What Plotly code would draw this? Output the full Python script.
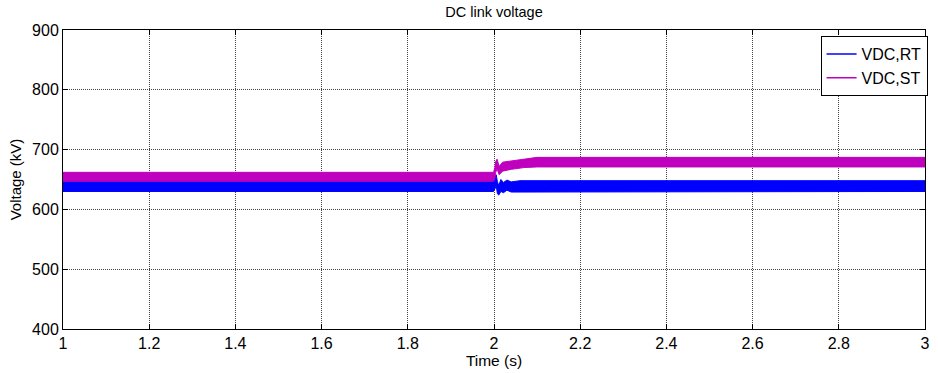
import plotly.graph_objects as go

# ---- data (ripple shown as its min/max envelope) ----
t_rt = [1.0, 1.999, 2.002, 2.005, 2.008, 2.011, 2.016, 2.022, 2.03, 2.04, 2.06, 3.0]
rt_upper = [648, 648, 652, 658, 646, 640, 650, 645, 649, 646, 648, 648]
rt_lower = [630, 630, 634, 640, 626, 624, 630, 628, 632, 629, 630, 630]

t_st = [1.0, 1.999, 2.002, 2.004, 2.007, 2.012, 2.02, 2.04, 2.07, 2.1, 3.0]
st_upper = [662, 662, 670, 680, 684, 672, 679, 681, 685, 687, 687]
st_lower = [647, 647, 652, 662, 668, 658, 664, 667, 670, 671, 671]

x_ticks = [1, 1.2, 1.4, 1.6, 1.8, 2, 2.2, 2.4, 2.6, 2.8, 3]
x_ticktext = ["1", "1.2", "1.4", "1.6", "1.8", "2", "2.2", "2.4", "2.6", "2.8", "3"]
y_ticks = [400, 500, 600, 700, 800, 900]

series = [
    ("VDC,RT", t_rt, rt_upper, rt_lower, "#0000FF"),
    ("VDC,ST", t_st, st_upper, st_lower, "#BF00BF"),
]

FONT = "Liberation Sans, Arial, sans-serif"
fig = go.Figure()

for name, t, up, lo, col in series:
    fig.add_trace(go.Scatter(
        x=list(t) + list(t)[::-1],
        y=list(up) + list(lo)[::-1],
        mode="lines", fill="toself", fillcolor=col,
        line=dict(color=col, width=1),
        showlegend=False, hoverinfo="skip",
    ))

for name, t, up, lo, col in series:
    fig.add_trace(go.Scatter(
        x=[None], y=[None], mode="lines", name=name,
        line=dict(color=col, width=1.5),
    ))

axis_common = dict(
    showline=True, linecolor="black", linewidth=1, mirror="ticks",
    ticks="inside", ticklen=5, tickcolor="black",
    showgrid=True, gridcolor="#444444", griddash="1px,1px", gridwidth=1,
    zeroline=False, tickfont=dict(family=FONT, size=16, color="black"),
)

fig.update_xaxes(range=[1, 3], tickvals=x_ticks, ticktext=x_ticktext,
                 title=dict(text="Time (s)", font=dict(family=FONT, size=15.5, color="black"), standoff=1),
                 **axis_common)
fig.update_yaxes(range=[400, 900], tickvals=y_ticks,
                 title=dict(text="Voltage (kV)", font=dict(family=FONT, size=15, color="black"), standoff=6),
                 **axis_common)

fig.update_layout(
    width=938, height=373,
    margin=dict(l=63, r=8, t=30, b=44),
    paper_bgcolor="white", plot_bgcolor="white",
    title=dict(text="DC link voltage", x=0.5, xref="paper",
               y=1 - 12 / 373, yanchor="middle",
               font=dict(family=FONT, size=14.5, color="black")),
    legend=dict(x=1.003, xanchor="right", y=0.98, yanchor="top",
                bgcolor="white", bordercolor="black", borderwidth=1,
                font=dict(family=FONT, size=16, color="black"),
                tracegroupgap=0, itemwidth=30),
    showlegend=True,
)

fig.write_html("out.html")
